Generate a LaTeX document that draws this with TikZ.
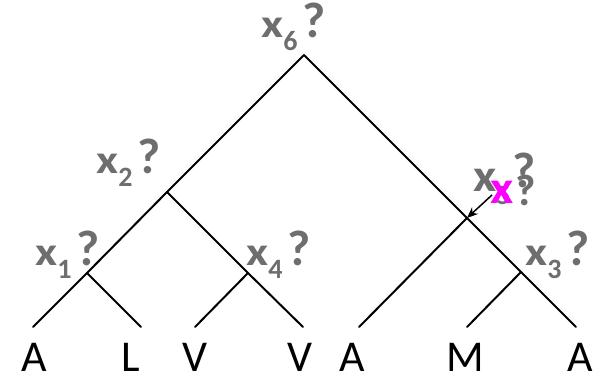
\documentclass[tikz,border=0pt]{standalone}
\usepackage{fontspec}
\setmainfont{Carlito}
\usetikzlibrary{arrows.meta}
\definecolor{labgray}{RGB}{110,110,110}
\definecolor{pinkx}{RGB}{255,0,255}
\newcommand{\xqlab}[1]{\scalebox{1.2}[1]{\fontsize{40}{40}\selectfont x}\raisebox{-13pt}{\fontsize{28}{28}\selectfont #1}\hspace{5pt}{\fontsize{50}{50}\selectfont ?}}
\begin{document}
\begin{tikzpicture}[x=1pt,y=-1pt,
  branch/.style={line width=2pt, line cap=round},
  varlab/.style={font=\bfseries, text=labgray, inner sep=0pt, anchor=base west},
  leaflab/.style={font=\fontsize{44}{44}\selectfont, inner sep=0pt, anchor=base}]
\useasboundingbox (0,0) rectangle (602,375);
% junctions
\coordinate (R) at (304,55);
\coordinate (n2) at (167,192);
\coordinate (n1) at (87,273);
\coordinate (n4) at (248,273);
\coordinate (n5) at (467,218);
\coordinate (n3) at (521,272);
% leaf ends
\coordinate (e1) at (33,327);
\coordinate (e2) at (141,327);
\coordinate (e3) at (195,327);
\coordinate (e4) at (303,327);
\coordinate (e5) at (359,327);
\coordinate (e6) at (467,327);
\coordinate (e7) at (576,327);
% branches
\draw[branch] (R) -- (n2) -- (n1) -- (e1);
\draw[branch] (n1) -- (e2);
\draw[branch] (n2) -- (n4) -- (e4);
\draw[branch] (n4) -- (e3);
\draw[branch] (R) -- (n5) -- (n3) -- (e7);
\draw[branch] (n5) -- (e5);
\draw[branch] (n3) -- (e6);
% leaf labels
\node[leaflab] (lA1) at (34,371) {A};
\node[leaflab] (lL) at (131,371) {L};
\node[leaflab] (lV1) at (195,371) {V};
\node[leaflab] (lV2) at (300,371) {V};
\node[leaflab] (lA2) at (352,371) {A};
\node[leaflab] (lM) at (465,371) {M};
\node[leaflab] (lA3) at (580,371) {A};
% variable labels
\node[varlab] (x6) at (261,37) {\xqlab{6}};
\node[varlab] (x2) at (96,173) {\xqlab{2}};
\node[varlab] (x1) at (35,265) {\xqlab{1}};
\node[varlab] (x4) at (246,265) {\xqlab{4}};
\node[varlab] (x3) at (525,265) {\xqlab{3}};
% x5 label (overwritten)
\node[varlab] (x5) at (473,191) {\scalebox{1.1}[1]{\fontsize{46}{46}\selectfont x}\raisebox{-13pt}{\fontsize{28}{28}\selectfont 5}};
\node[varlab] (q5a) at (512,187) {\fontsize{50}{50}\selectfont ?};
\node[varlab] (q5b) at (515,205) {\fontsize{44}{44}\selectfont ?};
\node[varlab, text=pinkx] (xp) at (490,203) {\scalebox{1.1}[1]{\fontsize{46}{46}\selectfont x}};
% arrow
\coordinate (as) at (492,195);
\draw[line width=1.5pt, -{Stealth[length=11pt,width=9pt]}] (as) -- (n5);
\end{tikzpicture}
\end{document}
